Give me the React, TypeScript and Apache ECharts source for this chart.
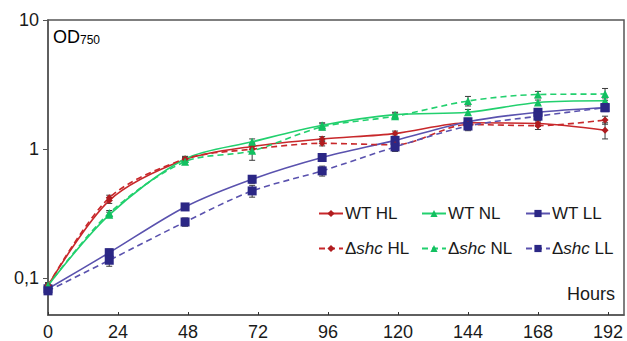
import React, { useEffect, useRef } from "react";
import * as echarts from "echarts";

const hours = [0, 21, 47, 70, 94, 119, 144, 168, 191];
const xTicks = [0, 24, 48, 72, 96, 120, 144, 168, 192];

const wtHL = [0.088, 0.40, 0.83, 1.05, 1.20, 1.32, 1.60, 1.58, 1.40];
const shcHL = [0.088, 0.42, 0.84, 1.00, 1.11, 1.08, 1.55, 1.52, 1.68];
const wtNL = [0.088, 0.31, 0.84, 1.14, 1.53, 1.85, 1.93, 2.30, 2.37];
const shcNL = [0.088, 0.32, 0.80, 0.97, 1.49, 1.80, 2.36, 2.65, 2.67];
const wtLL = [0.083, 0.158, 0.357, 0.585, 0.862, 1.17, 1.63, 1.93, 2.09];
const shcLL = [0.080, 0.138, 0.273, 0.475, 0.679, 1.04, 1.51, 1.80, 2.10];

const wtHLErr = [0.004, 0.02, 0.03, 0.05, 0.05, 0.06, 0.08, 0.08, 0.2];
const shcHLErr = [0.004, 0.02, 0.03, 0.06, 0.05, 0.05, 0.08, 0.1, 0.12];
const wtNLErr = [0.004, 0.015, 0.04, 0.06, 0.07, 0.08, 0.1, 0.1, 0.12];
const shcNLErr = [0.004, 0.015, 0.04, 0.15, 0.08, 0.1, 0.2, 0.15, 0.28];
const wtLLErr = [0.004, 0.01, 0.02, 0.04, 0.06, 0.07, 0.1, 0.1, 0.1];
const shcLLErr = [0.004, 0.014, 0.02, 0.05, 0.06, 0.08, 0.12, 0.12, 0.12];

const names = ["WT HL", "WT NL", "WT LL", "Δshc HL", "Δshc NL", "Δshc LL"];

const RED = "#c8282b";
const RED_M = "#b01c1f";
const GREEN = "#22d06e";
const GREEN_M = "#12c060";
const BLUE = "#5a52ae";
const BLUE_M = "#2b2785";
const FONT = "Liberation Sans, Arial, sans-serif";

export default function App() {
  const ref = useRef<HTMLDivElement>(null);
  useEffect(() => {
    if (!ref.current) return;
    const chart = echarts.init(ref.current, null, { renderer: "svg" });

    const defs = [
      { name: names[0], vals: wtHL, err: wtHLErr, color: RED, mc: RED_M, sym: "diamond", size: 7, dash: "solid" },
      { name: names[1], vals: wtNL, err: wtNLErr, color: GREEN, mc: GREEN_M, sym: "triangle", size: 8, dash: "solid" },
      { name: names[2], vals: wtLL, err: wtLLErr, color: BLUE, mc: BLUE_M, sym: "rect", size: 9, dash: "solid" },
      { name: names[3], vals: shcHL, err: shcHLErr, color: RED, mc: RED_M, sym: "diamond", size: 7, dash: [6, 4] },
      { name: names[4], vals: shcNL, err: shcNLErr, color: GREEN, mc: GREEN_M, sym: "triangle", size: 8, dash: [6, 4] },
      { name: names[5], vals: shcLL, err: shcLLErr, color: BLUE, mc: BLUE_M, sym: "rect", size: 9, dash: [6, 4] },
    ];

    const errData: number[][] = [];
    defs.forEach((d) => {
      d.vals.forEach((v, i) => {
        errData.push([hours[i], v - d.err[i], v + d.err[i]]);
      });
    });

    const isPow10 = (v: number) => {
      const l = Math.log10(v);
      return Math.abs(l - Math.round(l)) < 1e-6;
    };

    const legendPos = [
      { left: 318, top: 205 },
      { left: 421, top: 205 },
      { left: 525, top: 205 },
      { left: 318, top: 240 },
      { left: 421, top: 240 },
      { left: 525, top: 240 },
    ];

    const legends = names.map((n, i) => ({
      data: [n],
      left: legendPos[i].left,
      top: legendPos[i].top,
      orient: "horizontal",
      itemWidth: 24,
      itemHeight: 9,
      itemGap: 0,
      selectedMode: false,
      padding: 0,
      formatter: (name: string) =>
        name.startsWith("Δshc")
          ? "{n|Δ}{i|shc}{n|" + name.slice(4) + "}"
          : "{n|" + name + "}",
      textStyle: {
        fontFamily: FONT,
        fontSize: 17,
        color: "#1a1a1a",
        padding: [0, 0, 0, -3],
        rich: {
          n: { fontFamily: FONT, fontSize: 17, color: "#1a1a1a" },
          i: { fontFamily: FONT, fontSize: 17, fontStyle: "italic", color: "#1a1a1a" },
        },
      },
    }));

    const option: any = {
      animation: false,
      backgroundColor: "#ffffff",
      grid: {
        left: 48,
        right: 3,
        top: 20,
        bottom: 26,
        show: true,
        borderColor: "#555",
        borderWidth: 1.5,
        containLabel: false,
      },
      legend: legends,
      xAxis: {
        type: "value",
        min: 0,
        max: 197.5,
        interval: 24,
        splitLine: { show: false },
        axisLine: { show: true, lineStyle: { color: "#555", width: 1.5 } },
        axisTick: { show: true, inside: true, length: 3, lineStyle: { color: "#333" } },
        axisLabel: {
          margin: 8,
          fontFamily: FONT,
          fontSize: 18,
          color: "#1a1a1a",
          showMaxLabel: false,
          formatter: (v: number) => (xTicks.indexOf(v) >= 0 ? String(v) : ""),
        },
      },
      yAxis: {
        type: "log",
        logBase: 10,
        min: 0.052,
        max: 10,
        splitLine: { show: false },
        minorTick: { show: false },
        axisLine: { show: true, lineStyle: { color: "#555", width: 1.5 } },
        axisTick: { show: true, inside: false, length: 5, lineStyle: { color: "#555" } },
        axisLabel: {
          margin: 9,
          fontFamily: FONT,
          fontSize: 18,
          color: "#1a1a1a",
          showMinLabel: false,
          formatter: (v: number) => {
            if (!isPow10(v)) return "";
            const r = Math.round(Math.log10(v));
            if (r === -1) return "0,1";
            if (r === 0) return "1";
            if (r === 1) return "10";
            return "";
          },
        },
      },
      graphic: [
        {
          type: "text",
          left: 53,
          top: 28,
          style: {
            text: "{a|OD}{b|750}",
            rich: {
              a: { fontFamily: FONT, fontSize: 18, color: "#1a1a1a", lineHeight: 20 },
              b: { fontFamily: FONT, fontSize: 12, color: "#1a1a1a", lineHeight: 20, padding: [6, 0, 0, 0] },
            },
          },
        },
        {
          type: "text",
          right: 12,
          top: 285,
          style: {
            text: "Hours",
            fontFamily: FONT,
            fontSize: 18,
            fill: "#1a1a1a",
          },
        },
      ],
      series: [
        {
          type: "custom",
          name: "err",
          z: 1,
          silent: true,
          data: errData,
          encode: { x: 0, y: [1, 2] },
          renderItem: (params: any, api: any) => {
            const x = api.value(0);
            const lo = api.value(1);
            const hi = api.value(2);
            const p1 = api.coord([x, hi]);
            const p2 = api.coord([x, lo]);
            const w = 3;
            const st = { stroke: "#3a3a3a", lineWidth: 1 };
            return {
              type: "group",
              children: [
                { type: "line", shape: { x1: p1[0], y1: p1[1], x2: p2[0], y2: p2[1] }, style: st },
                { type: "line", shape: { x1: p1[0] - w, y1: p1[1], x2: p1[0] + w, y2: p1[1] }, style: st },
                { type: "line", shape: { x1: p2[0] - w, y1: p2[1], x2: p2[0] + w, y2: p2[1] }, style: st },
              ],
            };
          },
        },
        ...defs.map((d) => ({
          type: "line",
          name: d.name,
          z: 3,
          smooth: 0.3,
          data: d.vals.map((v, i) => [hours[i], v]),
          symbol: d.sym,
          symbolSize: d.size,
          showAllSymbol: true,
          lineStyle: { color: d.color, width: 1.6, type: d.dash },
          itemStyle: { color: d.mc, borderWidth: 0 },
          emphasis: { disabled: true },
        })),
      ],
    };

    chart.setOption(option);
    return () => chart.dispose();
  }, []);

  return (
    <div
      ref={ref}
      style={{ position: "fixed", left: 0, top: 0, width: 627, height: 341 }}
    />
  );
}
